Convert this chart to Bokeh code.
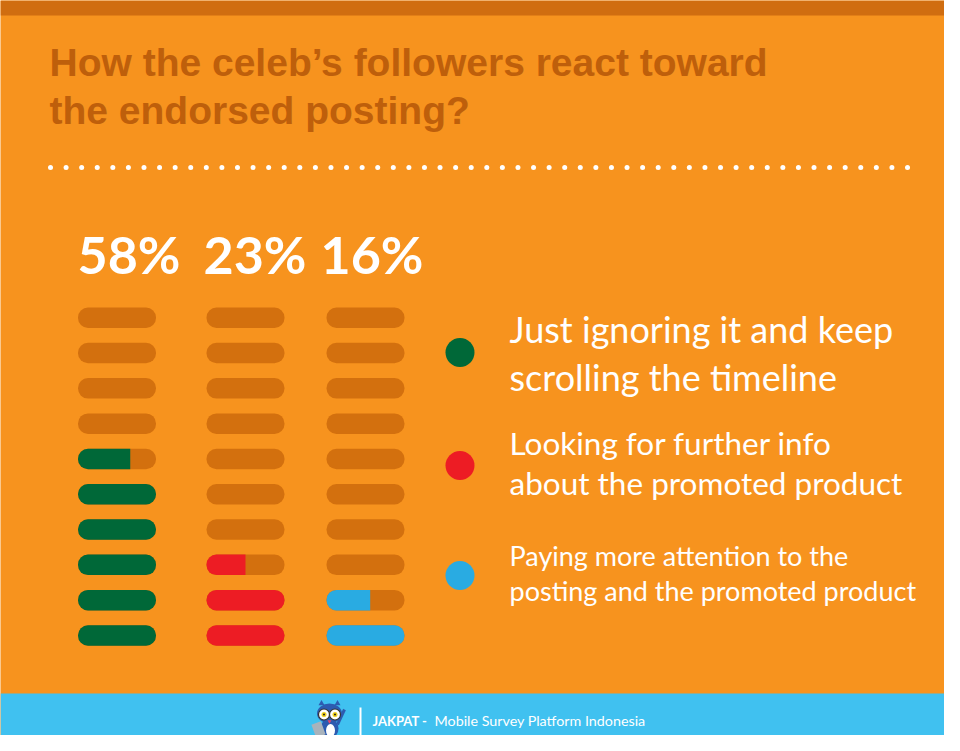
from bokeh.plotting import figure
from bokeh.models import Range1d
from bokeh.core.properties import value
from bokeh.embed import file_html
from bokeh.resources import INLINE
import numpy as np

# ---------------- data ----------------
title_lines = ["How the celeb\u2019s followers react toward", "the endorsed posting?"]
categories = [
    ["Just ignoring it and keep", "scrolling the timeline"],
    ["Looking for further info", "about the promoted product"],
    ["Paying more attention to the", "posting and the promoted product"],
]
percent = [58, 23, 16]
filled_units = [5.67, 2.5, 1.56]     # bars filled out of 10, as drawn
n_units = 10
series_colors = ["#006838", "#ED1C24", "#29ABE2"]
footer_bold = "JAKPAT -"
footer_text = "Mobile Survey Platform Indonesia"

# ---------------- style ----------------
BG = "#F7931E"
BAND = "#D06D10"
TRACK = "#D3700E"
TITLE_C = "#BE5F0B"
FOOT = "#40C1F0"

# layout (pixel coordinates of the design)
col_left = [77.5, 206.0, 326.0]
label_x = [77, 203, 320]
bar_w = 78.0
bar_h = 20.5
row_top0 = 307.0
row_step = 35.3
SHIFT = 0.39  # baseline correction, fraction of font size


def base(y, size):
    return y - SHIFT * size


p = figure(width=944, height=735, x_range=Range1d(0, 944), y_range=Range1d(735, 0),
           output_backend="svg", toolbar_location=None, min_border=0,
           background_fill_color=BG, border_fill_color=BG)
p.axis.visible = False
p.grid.visible = False
p.outline_line_color = None

# top band and footer
p.quad(left=[0], right=[960], top=[0], bottom=[15], fill_color=BAND, line_color=None)
p.quad(left=[0], right=[960], top=[693], bottom=[760], fill_color=FOOT, line_color=None)

# title
p.text(x=[49, 49], y=[base(77, 39), base(125, 39)], text=title_lines,
       text_font=value("Liberation Sans"),
       text_font_style="bold", text_font_size="39px", text_color=TITLE_C,
       text_baseline="alphabetic", text_align="left")

# dotted separator
dots_x = np.linspace(50, 907, 56)
p.scatter(x=dots_x, y=[167] * len(dots_x), size=5, marker="circle",
          fill_color="white", line_color=None)

# percentages
p.text(x=label_x, y=[base(274, 52)] * 3, text=[f"{v}%" for v in percent],
       text_font=value("Lato"), text_font_style="bold", text_font_size="52px",
       text_color="white", text_baseline="alphabetic", text_align="left")

# tracks
tl, tr, tt, tb = [], [], [], []
for c in range(3):
    for r in range(n_units):
        top = row_top0 + r * row_step
        tl.append(col_left[c]); tr.append(col_left[c] + bar_w)
        tt.append(top); tb.append(top + bar_h)
p.quad(left=tl, right=tr, top=tt, bottom=tb, fill_color=TRACK, line_color=None,
       border_radius=10)

# filled units
fl, fr, ft, fb, fc = [], [], [], [], []
pl, pr, pt, pb, pc = [], [], [], [], []
for c in range(3):
    full = int(filled_units[c])
    frac = filled_units[c] - full
    for k in range(full):
        top = row_top0 + (n_units - 1 - k) * row_step
        fl.append(col_left[c]); fr.append(col_left[c] + bar_w)
        ft.append(top); fb.append(top + bar_h); fc.append(series_colors[c])
    if frac > 0:
        top = row_top0 + (n_units - 1 - full) * row_step
        pl.append(col_left[c]); pr.append(col_left[c] + frac * bar_w)
        pt.append(top); pb.append(top + bar_h); pc.append(series_colors[c])
p.quad(left=fl, right=fr, top=ft, bottom=fb, fill_color=fc, line_color=None,
       border_radius=10)
p.quad(left=pl, right=pr, top=pt, bottom=pb, fill_color=pc, line_color=None,
       border_radius=(10, 0, 0, 10))

# legend
leg_y = [352, 465, 575]
p.scatter(x=[459.5] * 3, y=leg_y, size=29, marker="circle",
          fill_color=series_colors, line_color=None)
leg_sizes = [36, 31.5, 27]
leg_base = [(343, 391), (455, 495), (566, 601)]
for i in range(3):
    s = leg_sizes[i]
    p.text(x=[509, 509], y=[base(leg_base[i][0], s), base(leg_base[i][1], s)],
           text=categories[i],
           text_font=value("Lato"), text_font_size=f"{s}px", text_color="white",
           text_baseline="alphabetic", text_align="left")

# footer logo (owl) -- decoration
OWL = "#2D5BB0"
p.segment(x0=[337], y0=[724], x1=[344], y1=[709], line_color=OWL, line_width=3)
p.ellipse(x=[329], y=[728], width=18, height=20, fill_color=OWL, line_color=None)
p.ellipse(x=[329], y=[713], width=25, height=20, fill_color=OWL, line_color=None)
p.scatter(x=[321, 337], y=[703, 703], size=6, marker="triangle", fill_color=OWL,
          line_color=None)
p.ellipse(x=[330], y=[730], width=9, height=13, fill_color="white", line_color=None)
p.scatter(x=[323.5, 334.5], y=[714, 714], size=11, marker="circle", fill_color="white",
          line_color="#333333", line_width=1.2)
p.scatter(x=[323.5, 334.5], y=[714, 714], size=5, marker="circle", fill_color="#F2D21B",
          line_color=None)
p.scatter(x=[323.5, 334.5], y=[714, 714], size=2, marker="circle", fill_color="#222222",
          line_color=None)
p.scatter(x=[329], y=[721], size=4, marker="triangle", angle=np.pi, fill_color="#E8456E",
          line_color=None)
p.rect(x=[318], y=[729], width=10, height=14, angle=0.35, fill_color="#A9B3BC",
       line_color=None)
p.quad(left=[324, 331], right=[326, 333], top=[738], bottom=[741], fill_color="#E8456E",
       line_color=None)
p.quad(left=[359], right=[361], top=[707], bottom=[737], fill_color="white", line_color=None)

# footer text
p.text(x=[372], y=[base(726, 13)], text=[footer_bold], text_font=value("Lato"),
       text_font_style="bold",
       text_font_size="13px", text_color="white", text_baseline="alphabetic", text_align="left")
p.text(x=[434], y=[base(726, 14.3)], text=[footer_text], text_font=value("Lato"),
       text_font_size="14.3px", text_color="white", text_baseline="alphabetic", text_align="left")

open("out.html", "w").write(file_html(p, INLINE))
